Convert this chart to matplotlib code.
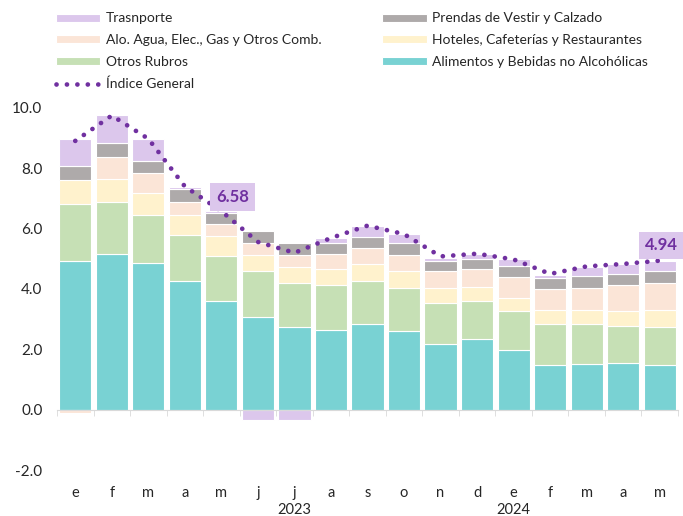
import matplotlib
matplotlib.use('Agg')
import matplotlib.pyplot as plt
import numpy as np

plt.rcParams['font.family'] = ['Lato', 'DejaVu Sans']

months = ['e', 'f', 'm', 'a', 'm', 'j', 'j', 'a', 's', 'o', 'n', 'd',
          'e', 'f', 'm', 'a', 'm']
years = {6: '2023', 12: '2024'}

alimentos = [4.93, 5.17, 4.86, 4.25, 3.61, 3.08, 2.75, 2.63, 2.83, 2.62, 2.19, 2.33, 1.97, 1.47, 1.50, 1.55, 1.49]
otros = [1.89, 1.72, 1.59, 1.54, 1.50, 1.52, 1.46, 1.49, 1.42, 1.42, 1.33, 1.28, 1.30, 1.36, 1.33, 1.23, 1.26]
hoteles = [0.78, 0.76, 0.73, 0.67, 0.65, 0.53, 0.53, 0.53, 0.57, 0.56, 0.52, 0.47, 0.44, 0.48, 0.48, 0.50, 0.56]
alo = [-0.10, 0.74, 0.65, 0.43, 0.40, 0.41, 0.38, 0.52, 0.55, 0.52, 0.56, 0.57, 0.68, 0.69, 0.73, 0.86, 0.90]
prendas = [0.48, 0.46, 0.41, 0.42, 0.37, 0.39, 0.39, 0.37, 0.35, 0.39, 0.34, 0.33, 0.38, 0.38, 0.39, 0.37, 0.39]
transporte = [0.90, 0.92, 0.74, 0.08, 0.05, -0.33, -0.33, 0.14, 0.38, 0.30, 0.09, 0.19, 0.22, 0.09, 0.31, 0.31, 0.34]
indice = [8.91, 9.75, 8.98, 7.40, 6.58, 5.56, 5.20, 5.69, 6.10, 5.82, 5.08, 5.17, 4.98, 4.50, 4.75, 4.83, 4.94]

# stacking order bottom -> top
series = [
    ('Alimentos y Bebidas no Alcohólicas', alimentos, '#79D2D3'),
    ('Otros Rubros', otros, '#C6E0B5'),
    ('Hoteles, Cafeterías y Restaurantes', hoteles, '#FFF2CD'),
    ('Alo. Agua, Elec., Gas y Otros Comb.', alo, '#FBE5D7'),
    ('Prendas de Vestir y Calzado', prendas, '#AEAAAA'),
    ('Trasnporte', transporte, '#DCC7EC'),
]

fig = plt.figure(figsize=(6.83, 5.16), dpi=100)
ax = fig.add_axes([57 / 683, 1 - 470 / 516, 621 / 683, 362 / 516])

x = np.arange(len(months))
pos = np.zeros(len(x))
neg = np.zeros(len(x))
handles = {}
for name, vals, col in series:
    v = np.array(vals)
    bottom = np.where(v >= 0, pos, neg)
    h = ax.bar(x, v, 0.88, bottom=bottom, color=col, edgecolor='white',
               linewidth=0.8, label=name)
    handles[name] = h
    pos = pos + np.where(v >= 0, v, 0)
    neg = neg + np.where(v < 0, v, 0)

line, = ax.plot(x, indice, color='#7030A0', lw=3.4, linestyle=(0, (0.01, 2.2)),
                dash_capstyle='round', label='Índice General')

# value labels
box = dict(boxstyle='square,pad=0.35', fc='#DCC7EC', ec='none')
ax.annotate(f'{indice[4]:.2f}', (x[4], indice[4]), xytext=(8, 10),
            textcoords='offset points', ha='center', va='center', fontsize=12,
            fontweight='bold', color='#7030A0', bbox=box)
ax.annotate(f'{indice[-1]:.2f}', (x[-1], indice[-1]), xytext=(1, 11),
            textcoords='offset points', ha='center', va='center', fontsize=12,
            fontweight='bold', color='#7030A0', bbox=box)

ax.set_xlim(-0.5, len(x) - 0.5)
ax.set_ylim(-2, 10)
ax.set_yticks(np.arange(-2, 10.1, 2))
ax.set_yticklabels([f'{t:.1f}' for t in np.arange(-2, 10.1, 2)])
ax.tick_params(axis='y', length=0, labelsize=11, colors='#262626', pad=10.5)

for s in ['top', 'right', 'left']:
    ax.spines[s].set_visible(False)
ax.spines['bottom'].set_position(('data', 0))
ax.spines['bottom'].set_color('#D9D9D9')
ax.set_xticks(np.arange(-0.5, len(x)), minor=True)
ax.set_xticks([])
ax.tick_params(axis='x', which='minor', length=4, color='#D9D9D9', labelbottom=False)

trans = ax.get_xaxis_transform()
for i, m in enumerate(months):
    ax.text(i, -0.064, m, transform=trans, ha='center', va='center',
            fontsize=10.5, color='#262626')
for i, yr in years.items():
    ax.text(i, -0.11, yr, transform=trans, ha='center', va='center',
            fontsize=10.5, color='#262626')

order = ['Trasnporte', 'Alo. Agua, Elec., Gas y Otros Comb.', 'Otros Rubros',
         None, 'Prendas de Vestir y Calzado', 'Hoteles, Cafeterías y Restaurantes',
         'Alimentos y Bebidas no Alcohólicas']
hs = [handles[n] if n else line for n in order]
labs = [n if n else 'Índice General' for n in order]
fig.legend(hs, labs, ncol=2, loc='upper left', bbox_to_anchor=(43 / 683, 1.0),
           frameon=False, fontsize=10, handlelength=3.2, handleheight=0.5,
           handletextpad=0.4, labelspacing=0.7, columnspacing=4.4,
           labelcolor='#262626')

fig.savefig('out.png', dpi=100)
